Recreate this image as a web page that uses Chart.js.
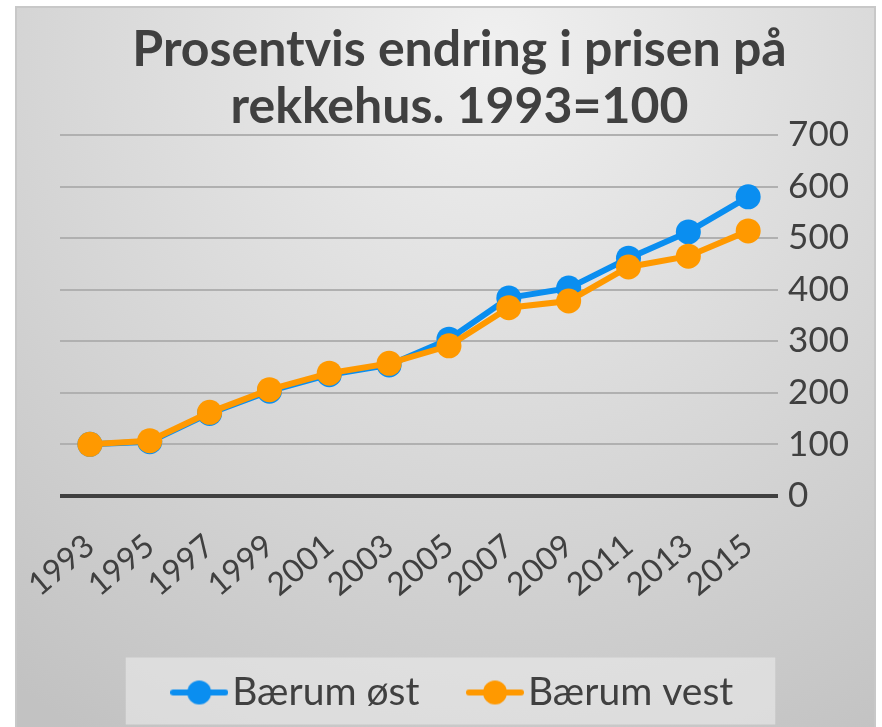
<!DOCTYPE html>
<html>
<head>
<meta charset="utf-8">
<script src="https://cdn.jsdelivr.net/npm/chart.js@4.4.1/dist/chart.umd.min.js"></script>
<style>
  html, body { margin: 0; padding: 0; background: #fff; }
  #wrap { position: absolute; left: 15px; top: 6px; width: 861px; height: 721px; }
</style>
</head>
<body>
<div id="wrap"><canvas id="chart"></canvas></div>
<script>
var years = ['1993', '1995', '1997', '1999', '2001', '2003', '2005', '2007', '2009', '2011', '2013', '2015'];
var baerumOst = [100, 105, 160, 203, 235, 254, 304, 384, 403, 461, 512, 580];
var baerumVest = [100, 107, 162, 206, 238, 257, 291, 365, 378, 444, 465, 514];
var yTicks = [0, 100, 200, 300, 400, 500, 600, 700];

var blue = 'rgb(10,142,240)';
var orange = 'rgb(255,153,0)';
var textColor = '#404040';
var font = 'Lato';

// little line+dot image used as the legend symbol
function legendIcon(color) {
  var c = document.createElement('canvas');
  c.width = 58;
  c.height = 26;
  var g = c.getContext('2d');
  g.strokeStyle = color;
  g.lineWidth = 6;
  g.lineCap = 'round';
  g.beginPath();
  g.moveTo(3, 13);
  g.lineTo(55, 13);
  g.stroke();
  g.fillStyle = color;
  g.beginPath();
  g.arc(29, 13, 12, 0, Math.PI * 2);
  g.fill();
  return c;
}

var background = {
  id: 'background',
  beforeDraw: function (chart) {
    var ctx = chart.ctx;
    var w = chart.width, h = chart.height;
    ctx.save();
    var grad = ctx.createRadialGradient(480, 40, 0, 480, 40, 800);
    grad.addColorStop(0, '#f0f0f0');
    grad.addColorStop(1, '#c2c2c2');
    ctx.fillStyle = grad;
    ctx.fillRect(0, 0, w, h);
    ctx.strokeStyle = '#c8c8c8';
    ctx.lineWidth = 2;
    ctx.strokeRect(1, 1, w - 2, h + 4);

    // legend panel
    var lg = chart.legend;
    if (lg && lg.legendHitBoxes && lg.legendHitBoxes.length) {
      var boxes = lg.legendHitBoxes;
      var left = boxes[0].left - 60;
      var last = boxes[boxes.length - 1];
      var right = last.left + last.width + 42;
      var cy = boxes[0].top + boxes[0].height / 2;
      ctx.fillStyle = 'rgba(235,235,235,0.6)';
      ctx.fillRect(left, cy - 35, right - left, 67);
    }
    ctx.restore();
  }
};

new Chart(document.getElementById('chart').getContext('2d'), {
  type: 'line',
  data: {
    labels: years,
    datasets: [
      {
        label: 'Bærum øst',
        data: baerumOst,
        borderColor: blue,
        backgroundColor: blue,
        borderWidth: 6,
        pointRadius: 12.5,
        pointHoverRadius: 12.5,
        pointBorderWidth: 0,
        tension: 0,
        order: 2
      },
      {
        label: 'Bærum vest',
        data: baerumVest,
        borderColor: orange,
        backgroundColor: orange,
        borderWidth: 6,
        pointRadius: 12.5,
        pointHoverRadius: 12.5,
        pointBorderWidth: 0,
        tension: 0,
        order: 1
      }
    ]
  },
  options: {
    responsive: true,
    maintainAspectRatio: false,
    animation: false,
    layout: { padding: { left: 45, right: 17, top: 0, bottom: 5 } },
    plugins: {
      title: {
        display: true,
        text: ['Prosentvis endring i prisen på', 'rekkehus. 1993=100'],
        color: textColor,
        font: { family: font, size: 50, weight: 'bold', lineHeight: 1.14 },
        padding: { top: 15, bottom: 0 }
      },
      legend: {
        position: 'bottom',
        labels: {
          color: textColor,
          font: { family: font, size: 39 },
          usePointStyle: true,
          pointStyleWidth: 27,
          padding: 62,
          generateLabels: function (chart) {
            var items = Chart.defaults.plugins.legend.labels.generateLabels(chart);
            items.sort(function (a, b) { return a.datasetIndex - b.datasetIndex; });
            items.forEach(function (it) {
              var ds = chart.data.datasets[it.datasetIndex];
              it.pointStyle = legendIcon(ds.borderColor);
            });
            return items;
          }
        }
      },
      tooltip: { enabled: false }
    },
    scales: {
      x: {
        offset: true,
        grid: { display: false },
        border: { display: false },
        afterFit: function (scale) {
          scale.height -= 16;
          // labels fit inside the layout padding already
          scale.paddingLeft = 0;
          scale.paddingRight = 0;
        },
        ticks: {
          color: textColor,
          font: { family: font, size: 32 },
          minRotation: 40,
          maxRotation: 40,
          autoSkip: false,
          padding: 23
        }
      },
      y: {
        position: 'right',
        min: 0,
        max: 700,
        border: { display: false },
        afterBuildTicks: function (axis) {
          axis.ticks = yTicks.map(function (v) { return { value: v }; });
        },
        grid: {
          drawTicks: false,
          color: function (c) { return c.tick && c.tick.value === 0 ? '#404040' : '#b0b0b0'; },
          lineWidth: function (c) { return c.tick && c.tick.value === 0 ? 4 : 2; }
        },
        ticks: {
          color: textColor,
          font: { family: font, size: 35 },
          padding: 10
        }
      }
    }
  },
  plugins: [background]
});
</script>
</body>
</html>
